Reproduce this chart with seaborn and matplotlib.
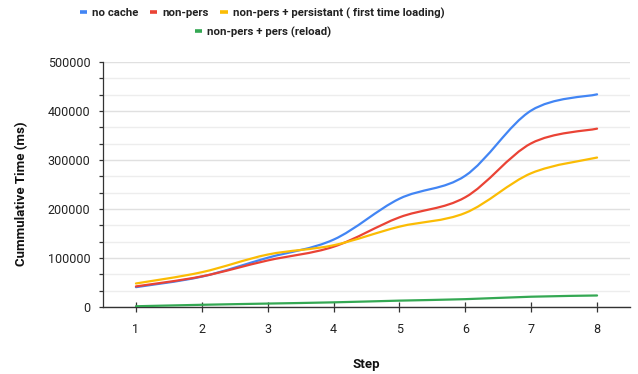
import numpy as np
import pandas as pd
import matplotlib
matplotlib.use("Agg")
import matplotlib.pyplot as plt
from matplotlib.path import Path
from matplotlib.patches import PathPatch
from matplotlib.lines import Line2D
from matplotlib.ticker import MultipleLocator
import seaborn as sns

steps = [1, 2, 3, 4, 5, 6, 7, 8]
no_cache = [40500, 62000, 100500, 137500, 221000, 268000, 401000, 434000]
non_pers = [42000, 62500, 95000, 123000, 183000, 224000, 334000, 364000]
non_pers_persistant = [48000, 71000, 107000, 126000, 164000, 192000, 273000, 305000]
non_pers_pers_reload = [1500, 4500, 7000, 9500, 13000, 16000, 21000, 23500]

series_names = ["no cache", "non-pers", "non-pers + persistant ( first time loading)",
                "non-pers + pers (reload)"]
series_values = [no_cache, non_pers, non_pers_persistant, non_pers_pers_reload]
colors = ["#4285F4", "#EA4335", "#FBBC04", "#34A853"]

df = pd.DataFrame({"Step": steps * 4,
                   "Time": sum(series_values, []),
                   "Series": sum([[n] * len(steps) for n in series_names], [])})

sns.set_theme(style="white")
plt.rcParams["font.family"] = ["Roboto", "DejaVu Sans"]

fig = plt.figure(figsize=(6.38, 3.74), dpi=100)
ax = fig.add_axes([103 / 638, 1 - 307 / 374, 527 / 638, 245 / 374])

sns.lineplot(data=df, x="Step", y="Time", hue="Series", palette=colors,
             hue_order=series_names, ax=ax, legend=False, linewidth=1.6)


def smooth_path(xs, ys):
    xs = np.asarray(xs, float)
    ys = np.asarray(ys, float)
    n = len(xs)
    verts = [(xs[0], ys[0])]
    codes = [Path.MOVETO]
    for i in range(n - 1):
        p0 = np.array([xs[max(i - 1, 0)], ys[max(i - 1, 0)]])
        p1 = np.array([xs[i], ys[i]])
        p2 = np.array([xs[i + 1], ys[i + 1]])
        p3 = np.array([xs[min(i + 2, n - 1)], ys[min(i + 2, n - 1)]])
        c1 = p1 + (p2 - p0) / 6.0
        c2 = p2 - (p3 - p1) / 6.0
        verts += [tuple(c1), tuple(c2), tuple(p2)]
        codes += [Path.CURVE4, Path.CURVE4, Path.CURVE4]
    return Path(verts, codes)


# replace seaborn's straight segments with smooth curves through the same points
for line in list(ax.lines):
    xy = line.get_xydata()
    patch = PathPatch(smooth_path(xy[:, 0], xy[:, 1]), facecolor="none",
                      edgecolor=line.get_color(), linewidth=1.6, zorder=3,
                      capstyle="round", joinstyle="round")
    ax.add_patch(patch)
    line.remove()

ax.set_xlim(0.5, 8.5)
ax.set_ylim(0, 500000)
ax.set_xticks(steps)
ax.set_xticklabels([str(s) for s in steps])
ax.yaxis.set_major_locator(MultipleLocator(100000))
ax.yaxis.set_minor_locator(MultipleLocator(100000 / 3))
ax.set_yticklabels([str(int(v)) for v in ax.get_yticks()])

ax.grid(axis="y", which="major", color="#e0e0e0", linewidth=1.0, zorder=0)
ax.grid(axis="y", which="minor", color="#ededed", linewidth=1.0, zorder=0)
ax.set_axisbelow(True)

for s in ["top", "right"]:
    ax.spines[s].set_visible(False)
ax.spines["left"].set_color("#333333")
ax.spines["left"].set_linewidth(0.9)
ax.spines["bottom"].set_color("#333333")
ax.spines["bottom"].set_linewidth(1.0)

ax.tick_params(axis="y", which="both", left=True, length=3, width=0.9,
               color="#333333", direction="out", pad=6, labelsize=9,
               labelcolor="#222222")
ax.tick_params(axis="x", which="major", bottom=True, length=7, width=0.9,
               color="#333333", direction="inout", pad=8, labelsize=9,
               labelcolor="#222222")

ax.set_xlabel("Step", fontsize=9.5, fontweight="bold", color="#111111")
ax.set_ylabel("Cummulative Time (ms)", fontsize=9.5, fontweight="bold",
              color="#111111")
ax.yaxis.set_label_coords(-0.143, 0.462)
ax.xaxis.set_label_coords(0.5, -0.207)

handles = [Line2D([0], [0], color=c, linewidth=2.6, solid_capstyle="butt")
           for c in colors]
leg_kw = dict(frameon=False, handlelength=0.65, handletextpad=0.45,
              columnspacing=1.0, borderaxespad=0, borderpad=0,
              prop={"family": ["Roboto", "DejaVu Sans"], "weight": "bold",
                    "size": 8.2})
leg1 = fig.legend(handles[:3], series_names[:3], ncol=3, loc="center",
                  bbox_to_anchor=(262 / 638, 1 - 13 / 374), **leg_kw)
for t in leg1.get_texts():
    t.set_color("#222222")
leg2 = fig.legend(handles[3:], series_names[3:], ncol=1, loc="center",
                  bbox_to_anchor=(263 / 638, 1 - 32 / 374), **leg_kw)
for t in leg2.get_texts():
    t.set_color("#222222")

fig.savefig("out.png", dpi=100)
